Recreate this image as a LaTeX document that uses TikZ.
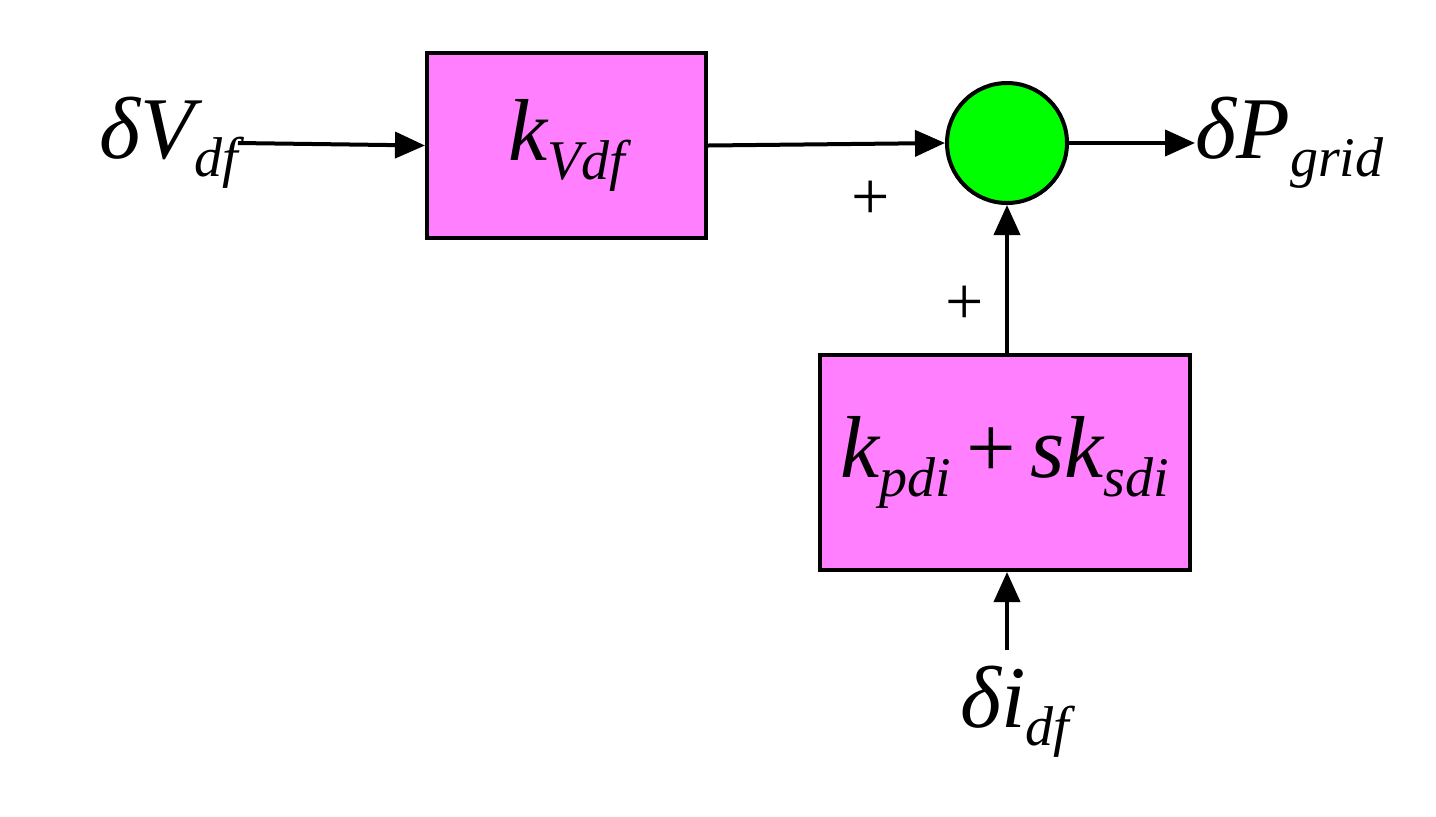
\documentclass[tikz,border=0pt]{standalone}
\usepackage{fontspec}
\setmainfont{Liberation Serif}
\usetikzlibrary{arrows.meta}
\definecolor{mag}{HTML}{FF7FFF}
\definecolor{grn}{HTML}{00FF00}
\newcommand{\sbs}[1]{\raisebox{-0.45ex}{\fontsize{28}{30}\selectfont #1}}
\begin{document}
\begin{tikzpicture}[x=0.5pt,y=-0.5pt,
  blk/.style={draw=black,line width=2pt,fill=mag,inner sep=0pt},
  con/.style={line width=2pt,-{Triangle[length=15pt,width=13pt]}},
  lbl/.style={font=\fontsize{44}{50}\selectfont\itshape,inner sep=0pt},
  pl/.style={font=\fontsize{34}{40}\selectfont,inner sep=0pt}]
\useasboundingbox (0,0) rectangle (1436,816);
\node[blk,minimum width=139.5pt,minimum height=92.5pt] (b1) at (566.5,145.5) {};
\node[lbl] at (b1) {k\sbs{Vdf}};
\node[blk,minimum width=185pt,minimum height=107.5pt] (b2) at (1005,462.5) {};
\node[lbl] at (b2) {k\sbs{pdi}\,{\upshape +}\,sk\sbs{sdi}};
\node[circle,draw=black,line width=2pt,fill=grn,minimum size=60pt,inner sep=0pt] (s) at (1007,143) {};
\node[lbl,anchor=east] (in) at (238,143) {δV\sbs{df}};
\node[lbl,anchor=west] (out) at (1195,143) {δP\sbs{grid}};
\node[lbl] (ii) at (1015,712) {δi\sbs{df}};
\coordinate (ib) at (1007,650);
\draw[con] (in.east) -- (b1.west);
\draw[con] (b1.east) -- (s.west);
\draw[con] (s.east) -- (out.west);
\draw[con] (b2.north -| s) -- (s.south);
\draw[con] (ib) -- (b2.south -| ib);
\node[pl] at (871,200) {+};
\node[pl] at (965,305) {+};
\end{tikzpicture}
\end{document}
